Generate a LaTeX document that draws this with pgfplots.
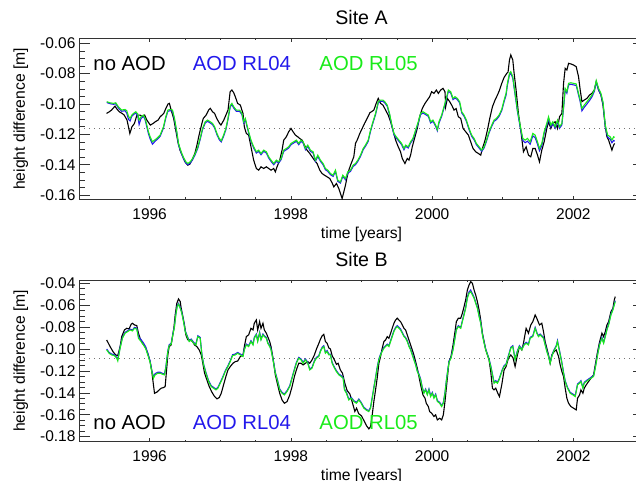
\documentclass[border=0pt]{standalone}
\usepackage{fontspec}
\setmainfont{Liberation Sans}
\usepackage{pgfplots}
\usepackage{pgfplotstable}
\pgfplotsset{compat=1.18}
\definecolor{aodblue}{RGB}{35,25,235}
\definecolor{aodgreen}{RGB}{25,235,25}

\pgfplotstableread{
t v
1995.39 -0.1062
1995.43 -0.1051
1995.46 -0.1040
1995.51 -0.1014
1995.53 -0.1029
1995.57 -0.1051
1995.61 -0.1062
1995.64 -0.1073
1995.68 -0.1106
1995.70 -0.1150
1995.72 -0.1194
1995.75 -0.1150
1995.785 -0.1128
1995.82 -0.1073
1995.865 -0.1073
1995.90 -0.1084
1995.93 -0.1073
1995.96 -0.1106
1996.01 -0.1139
1996.05 -0.1128
1996.08 -0.1117
1996.12 -0.1106
1996.15 -0.1084
1996.20 -0.1062
1996.23 -0.1029
1996.26 -0.1000
1996.28 -0.0996
1996.305 -0.1040
1996.34 -0.1095
1996.37 -0.1172
1996.40 -0.1249
1996.43 -0.1304
1996.47 -0.1348
1996.50 -0.1381
1996.54 -0.1403
1996.57 -0.1396
1996.60 -0.1370
1996.64 -0.1326
1996.67 -0.1271
1996.70 -0.1205
1996.74 -0.1128
1996.76 -0.1095
1996.80 -0.1073
1996.835 -0.1040
1996.86 -0.1029
1996.89 -0.1051
1996.92 -0.1062
1996.95 -0.1095
1996.99 -0.1128
1997.01 -0.1139
1997.05 -0.1106
1997.08 -0.1073
1997.11 -0.1040
1997.14 -0.0919
1997.165 -0.0908
1997.19 -0.0925
1997.213 -0.0952
1997.246 -0.0996
1997.284 -0.1007
1997.322 -0.1062
1997.341 -0.1150
1997.369 -0.1194
1997.402 -0.1205
1997.435 -0.1282
1997.473 -0.1370
1997.511 -0.1425
1997.544 -0.1436
1997.577 -0.1414
1997.615 -0.1425
1997.653 -0.1414
1997.686 -0.1425
1997.719 -0.1436
1997.757 -0.1425
1997.780 -0.1447
1997.804 -0.1414
1997.842 -0.1370
1997.875 -0.1304
1997.899 -0.1238
1997.936 -0.1216
1997.969 -0.1183
1998.002 -0.1161
1998.031 -0.1183
1998.064 -0.1205
1998.097 -0.1216
1998.125 -0.1227
1998.159 -0.1238
1998.192 -0.1271
1998.229 -0.1304
1998.267 -0.1326
1998.300 -0.1348
1998.333 -0.1370
1998.371 -0.1392
1998.409 -0.1436
1998.442 -0.1458
1998.475 -0.1469
1998.513 -0.1480
1998.551 -0.1491
1998.584 -0.1520
1998.608 -0.1546
1998.645 -0.1524
1998.679 -0.1557
1998.702 -0.1590
1998.726 -0.1623
1998.750 -0.1579
1998.773 -0.1535
1998.797 -0.1480
1998.820 -0.1436
1998.854 -0.1392
1998.891 -0.1348
1998.915 -0.1260
1998.939 -0.1238
1998.976 -0.1194
1999.010 -0.1161
1999.043 -0.1128
1999.08 -0.1095
1999.118 -0.1058
1999.142 -0.1051
1999.175 -0.1040
1999.208 -0.0996
1999.237 -0.0963
1999.27 -0.0996
1999.303 -0.1007
1999.341 -0.1040
1999.378 -0.1073
1999.412 -0.1117
1999.445 -0.1172
1999.483 -0.1238
1999.52 -0.1282
1999.553 -0.1315
1999.577 -0.1359
1999.615 -0.1392
1999.648 -0.1359
1999.672 -0.1370
1999.695 -0.1337
1999.719 -0.1282
1999.757 -0.1216
1999.79 -0.1161
1999.823 -0.1084
1999.861 -0.1029
1999.899 -0.0996
1999.932 -0.0974
1999.965 -0.0952
1999.993 -0.0919
2000.026 -0.0930
2000.06 -0.0908
2000.088 -0.0930
2000.121 -0.0908
2000.154 -0.0897
2000.182 -0.0919
2000.192 -0.1018
2000.215 -0.0963
2000.249 -0.0985
2000.28 -0.1010
2000.31 -0.1040
2000.34 -0.1030
2000.371 -0.1084
2000.405 -0.1095
2000.438 -0.1161
2000.476 -0.1183
2000.513 -0.1205
2000.546 -0.1249
2000.579 -0.1293
2000.617 -0.1315
2000.655 -0.1326
2000.688 -0.1337
2000.712 -0.1293
2000.75 -0.1238
2000.783 -0.1172
2000.816 -0.1095
2000.854 -0.1018
2000.891 -0.0974
2000.925 -0.0941
2000.953 -0.0910
2000.986 -0.0864
2001.019 -0.0825
2001.057 -0.0798
2001.075 -0.0790
2001.095 -0.0710
2001.114 -0.0677
2001.142 -0.0710
2001.161 -0.0798
2001.189 -0.0908
2001.222 -0.1062
2001.255 -0.1172
2001.293 -0.1315
2001.331 -0.1282
2001.364 -0.1337
2001.397 -0.1348
2001.426 -0.1293
2001.459 -0.1293
2001.492 -0.1337
2001.52 -0.1381
2001.553 -0.1304
2001.586 -0.1249
2001.624 -0.1161
2001.648 -0.1117
2001.681 -0.1161
2001.709 -0.1128
2001.742 -0.1117
2001.775 -0.1161
2001.804 -0.1084
2001.837 -0.1062
2001.861 -0.0864
2001.884 -0.0765
2001.908 -0.0776
2001.932 -0.0732
2001.965 -0.0736
2002.002 -0.0743
2002.04 -0.0754
2002.073 -0.0820
2002.097 -0.0908
2002.121 -0.0985
2002.154 -0.0974
2002.192 -0.0963
2002.229 -0.0941
2002.263 -0.0930
2002.296 -0.0908
2002.324 -0.0853
2002.357 -0.0908
2002.39 -0.0941
2002.419 -0.1007
2002.452 -0.1150
2002.475 -0.1216
2002.499 -0.1238
2002.546 -0.1304
2002.57 -0.1271
2002.584 -0.1260
}\topK

\pgfplotstableread{
t g b
1995.392 -0.0985 -0.0990
1995.44 -0.0992 -0.0998
1995.487 -0.0996 -0.1002
1995.52 -0.0992 -0.0998
1995.558 -0.1018 -0.1026
1995.605 -0.1040 -0.1048
1995.652 -0.1036 -0.1044
1995.676 -0.1044 -0.1060
1995.70 -0.1080 -0.1100
1995.723 -0.1095 -0.1112
1995.747 -0.1073 -0.1081
1995.771 -0.1062 -0.1070
1995.804 -0.1051 -0.1059
1995.832 -0.1066 -0.1080
1995.851 -0.1106 -0.1135
1995.879 -0.1084 -0.1095
1995.913 -0.1073 -0.1081
1995.936 -0.1095 -0.1103
1995.96 -0.1139 -0.1150
1995.983 -0.1183 -0.1195
1996.007 -0.1216 -0.1230
1996.04 -0.1249 -0.1265
1996.069 -0.1238 -0.1250
1996.102 -0.1227 -0.1235
1996.149 -0.1205 -0.1213
1996.196 -0.1150 -0.1158
1996.229 -0.1084 -0.1092
1996.258 -0.1040 -0.1048
1996.291 -0.1036 -0.1044
1996.324 -0.1040 -0.1048
1996.352 -0.1095 -0.1103
1996.385 -0.1183 -0.1191
1996.409 -0.1260 -0.1268
1996.447 -0.1315 -0.1323
1996.48 -0.1352 -0.1360
1996.513 -0.1381 -0.1389
1996.541 -0.1392 -0.1400
1996.575 -0.1381 -0.1389
1996.608 -0.1359 -0.1367
1996.645 -0.1326 -0.1334
1996.683 -0.1282 -0.1290
1996.721 -0.1216 -0.1224
1996.749 -0.1161 -0.1169
1996.787 -0.1117 -0.1125
1996.82 -0.1106 -0.1114
1996.858 -0.1117 -0.1125
1996.891 -0.1128 -0.1136
1996.92 -0.1150 -0.1158
1996.953 -0.1194 -0.1202
1996.986 -0.1227 -0.1235
1997.014 -0.1242 -0.1250
1997.047 -0.1205 -0.1213
1997.08 -0.1161 -0.1169
1997.109 -0.1095 -0.1103
1997.142 -0.1010 -0.1018
1997.165 -0.0996 -0.1004
1997.19 -0.1018 -0.1026
1997.227 -0.1040 -0.1048
1997.274 -0.1040 -0.1048
1997.307 -0.1062 -0.1070
1997.331 -0.1117 -0.1125
1997.355 -0.1095 -0.1103
1997.378 -0.1139 -0.1147
1997.402 -0.1183 -0.1191
1997.435 -0.1238 -0.1246
1997.473 -0.1282 -0.1290
1997.511 -0.1315 -0.1323
1997.544 -0.1304 -0.1312
1997.577 -0.1326 -0.1334
1997.615 -0.1304 -0.1312
1997.653 -0.1315 -0.1323
1997.686 -0.1348 -0.1356
1997.719 -0.1370 -0.1378
1997.757 -0.1392 -0.1400
1997.795 -0.1370 -0.1378
1997.828 -0.1381 -0.1389
1997.861 -0.1359 -0.1367
1997.899 -0.1304 -0.1312
1997.936 -0.1293 -0.1301
1997.969 -0.1282 -0.1290
1998.002 -0.1260 -0.1268
1998.040 -0.1249 -0.1257
1998.078 -0.1238 -0.1246
1998.111 -0.1260 -0.1268
1998.144 -0.1238 -0.1246
1998.173 -0.1249 -0.1257
1998.206 -0.1293 -0.1301
1998.239 -0.1271 -0.1279
1998.277 -0.1304 -0.1312
1998.315 -0.1315 -0.1323
1998.348 -0.1370 -0.1378
1998.381 -0.1337 -0.1345
1998.419 -0.1370 -0.1378
1998.456 -0.1392 -0.1400
1998.489 -0.1425 -0.1433
1998.523 -0.1436 -0.1444
1998.560 -0.1458 -0.1466
1998.598 -0.1469 -0.1477
1998.631 -0.1436 -0.1444
1998.664 -0.1502 -0.1510
1998.702 -0.1513 -0.1521
1998.735 -0.1469 -0.1477
1998.773 -0.1491 -0.1499
1998.806 -0.1447 -0.1455
1998.844 -0.1436 -0.1444
1998.882 -0.1403 -0.1411
1998.915 -0.1392 -0.1400
1998.948 -0.1370 -0.1378
1998.986 -0.1337 -0.1345
1999.024 -0.1293 -0.1301
1999.057 -0.1270 -0.1278
1999.095 -0.1238 -0.1246
1999.128 -0.1172 -0.1180
1999.16 -0.1120 -0.1128
1999.199 -0.1062 -0.1070
1999.237 -0.0985 -0.0993
1999.27 -0.0974 -0.0982
1999.303 -0.0974 -0.0982
1999.33 -0.0985 -0.0993
1999.364 -0.1007 -0.1015
1999.397 -0.1062 -0.1070
1999.426 -0.1128 -0.1136
1999.459 -0.1194 -0.1202
1999.492 -0.1216 -0.1224
1999.53 -0.1238 -0.1246
1999.568 -0.1260 -0.1268
1999.601 -0.1293 -0.1301
1999.624 -0.1271 -0.1279
1999.662 -0.1282 -0.1290
1999.695 -0.1249 -0.1257
1999.728 -0.1227 -0.1235
1999.766 -0.1172 -0.1180
1999.804 -0.1117 -0.1125
1999.837 -0.1062 -0.1070
1999.87 -0.1051 -0.1059
1999.908 -0.1062 -0.1070
1999.946 -0.1073 -0.1081
1999.979 -0.1117 -0.1125
2000.012 -0.1106 -0.1114
2000.05 -0.1139 -0.1147
2000.074 -0.1168 -0.1176
2000.097 -0.1117 -0.1125
2000.135 -0.1073 -0.1081
2000.168 -0.1018 -0.1026
2000.201 -0.0963 -0.0971
2000.23 -0.0908 -0.0916
2000.263 -0.0919 -0.0927
2000.296 -0.0963 -0.0971
2000.324 -0.0952 -0.0960
2000.357 -0.0963 -0.0971
2000.39 -0.0985 -0.0993
2000.419 -0.1051 -0.1059
2000.452 -0.1073 -0.1081
2000.485 -0.1106 -0.1114
2000.523 -0.1161 -0.1169
2000.56 -0.1205 -0.1213
2000.594 -0.1227 -0.1235
2000.627 -0.1260 -0.1268
2000.665 -0.1282 -0.1290
2000.702 -0.1304 -0.1312
2000.736 -0.1282 -0.1290
2000.769 -0.1238 -0.1246
2000.806 -0.1183 -0.1191
2000.844 -0.1139 -0.1147
2000.877 -0.1106 -0.1114
2000.91 -0.1095 -0.1103
2000.948 -0.1073 -0.1081
2000.986 -0.1035 -0.1043
2001.019 -0.0974 -0.0985
2001.047 -0.0930 -0.0942
2001.066 -0.0864 -0.0876
2001.095 -0.0798 -0.0808
2001.114 -0.0787 -0.0797
2001.142 -0.0820 -0.0830
2001.175 -0.0930 -0.0940
2001.208 -0.1040 -0.1050
2001.246 -0.1139 -0.1150
2001.284 -0.1227 -0.1240
2001.317 -0.1238 -0.1255
2001.35 -0.1227 -0.1245
2001.388 -0.1249 -0.1265
2001.426 -0.1194 -0.1210
2001.459 -0.1205 -0.1222
2001.492 -0.1249 -0.1265
2001.52 -0.1293 -0.1308
2001.553 -0.1260 -0.1275
2001.586 -0.1183 -0.1195
2001.624 -0.1128 -0.1140
2001.648 -0.1084 -0.1095
2001.681 -0.1139 -0.1150
2001.709 -0.1117 -0.1128
2001.742 -0.1150 -0.1160
2001.775 -0.1106 -0.1116
2001.804 -0.1150 -0.1160
2001.837 -0.1128 -0.1138
2001.861 -0.1018 -0.1028
2001.884 -0.0897 -0.0907
2001.908 -0.0919 -0.0929
2001.932 -0.0864 -0.0874
2001.965 -0.0860 -0.0870
2002.002 -0.0864 -0.0874
2002.04 -0.0868 -0.0878
2002.073 -0.0930 -0.0940
2002.097 -0.0974 -0.0986
2002.121 -0.1029 -0.1045
2002.154 -0.1007 -0.1022
2002.192 -0.0985 -0.1000
2002.229 -0.0963 -0.0977
2002.263 -0.0941 -0.0953
2002.296 -0.0908 -0.0918
2002.324 -0.0846 -0.0856
2002.357 -0.0897 -0.0907
2002.39 -0.0930 -0.0940
2002.419 -0.0985 -0.0995
2002.452 -0.1139 -0.1150
2002.485 -0.1205 -0.1218
2002.522 -0.1216 -0.1232
2002.546 -0.1238 -0.1255
2002.57 -0.1216 -0.1240
2002.584 -0.1220 -0.1245
}\topG

\pgfplotstableread{
t v
1995.392 -0.0917
1995.440 -0.0978
1995.487 -0.1029
1995.520 -0.1054
1995.549 -0.1060
1995.582 -0.0978
1995.605 -0.0887
1995.643 -0.0826
1995.676 -0.0811
1995.709 -0.0817
1995.738 -0.0774
1995.757 -0.0765
1995.785 -0.0780
1995.818 -0.0786
1995.842 -0.0856
1995.865 -0.0902
1995.898 -0.0947
1995.936 -0.0978
1995.974 -0.1039
1996.007 -0.1115
1996.031 -0.1206
1996.054 -0.1327
1996.069 -0.1404
1996.102 -0.1394
1996.135 -0.1373
1996.163 -0.1358
1996.196 -0.1352
1996.220 -0.1343
1996.234 -0.1236
1996.258 -0.1054
1996.277 -0.0978
1996.305 -0.0963
1996.324 -0.0887
1996.343 -0.0811
1996.362 -0.0689
1996.385 -0.0583
1996.409 -0.0543
1996.433 -0.0567
1996.447 -0.0628
1996.466 -0.0689
1996.494 -0.0780
1996.513 -0.0871
1996.541 -0.0917
1996.575 -0.0917
1996.608 -0.0932
1996.636 -0.0963
1996.669 -0.0978
1996.702 -0.1008
1996.731 -0.1054
1996.749 -0.1115
1996.778 -0.1221
1996.811 -0.1282
1996.844 -0.1343
1996.882 -0.1394
1996.920 -0.1434
1996.953 -0.1455
1996.986 -0.1443
1997.014 -0.1404
1997.047 -0.1327
1997.080 -0.1251
1997.109 -0.1191
1997.142 -0.1160
1997.18 -0.1130
1997.213 -0.1115
1997.246 -0.1110
1997.284 -0.1069
1997.322 -0.1054
1997.341 -0.0978
1997.369 -0.0887
1997.402 -0.0871
1997.435 -0.0811
1997.464 -0.0826
1997.482 -0.0765
1997.511 -0.0735
1997.53 -0.0826
1997.558 -0.0750
1997.577 -0.0811
1997.605 -0.0765
1997.624 -0.0826
1997.653 -0.0856
1997.672 -0.0887
1997.7 -0.0932
1997.719 -0.0978
1997.747 -0.1084
1997.78 -0.1236
1997.813 -0.1327
1997.842 -0.1404
1997.875 -0.1465
1997.908 -0.1495
1997.946 -0.1480
1997.984 -0.1419
1998.017 -0.1343
1998.05 -0.1251
1998.078 -0.1191
1998.111 -0.1130
1998.144 -0.1130
1998.173 -0.1145
1998.206 -0.1130
1998.239 -0.1115
1998.267 -0.1130
1998.3 -0.1099
1998.333 -0.1054
1998.362 -0.1000
1998.395 -0.0950
1998.419 -0.0910
1998.442 -0.0880
1998.466 -0.0866
1998.489 -0.0932
1998.513 -0.0947
1998.537 -0.0990
1998.56 -0.1000
1998.584 -0.1060
1998.617 -0.1100
1998.645 -0.1140
1998.669 -0.1130
1998.70 -0.1190
1998.731 -0.1221
1998.764 -0.1312
1998.797 -0.1380
1998.835 -0.1410
1998.873 -0.1494
1998.906 -0.1570
1998.93 -0.1540
1998.96 -0.1590
1999.00 -0.1610
1999.04 -0.1660
1999.071 -0.1700
1999.104 -0.1729
1999.128 -0.1708
1999.152 -0.1601
1999.175 -0.1479
1999.199 -0.1373
1999.222 -0.1267
1999.246 -0.1130
1999.27 -0.1069
1999.293 -0.0993
1999.317 -0.0932
1999.341 -0.0917
1999.364 -0.0887
1999.388 -0.0902
1999.412 -0.0856
1999.435 -0.0811
1999.459 -0.0765
1999.483 -0.0735
1999.506 -0.0719
1999.53 -0.0735
1999.553 -0.0750
1999.577 -0.0780
1999.601 -0.0811
1999.624 -0.0826
1999.648 -0.0871
1999.672 -0.0917
1999.695 -0.0963
1999.719 -0.1008
1999.742 -0.1054
1999.766 -0.1115
1999.79 -0.1175
1999.813 -0.1251
1999.837 -0.1327
1999.87 -0.1419
1999.899 -0.1449
1999.917 -0.1495
1999.946 -0.1525
1999.965 -0.1571
1999.993 -0.1586
2000.026 -0.1616
2000.05 -0.1601
2000.074 -0.1647
2000.107 -0.1632
2000.135 -0.1647
2000.159 -0.1601
2000.182 -0.1479
2000.201 -0.1358
2000.22 -0.1236
2000.239 -0.1115
2000.267 -0.1069
2000.296 -0.0963
2000.324 -0.0841
2000.343 -0.0750
2000.371 -0.0719
2000.405 -0.0719
2000.428 -0.0674
2000.452 -0.0613
2000.475 -0.0552
2000.499 -0.0461
2000.523 -0.0415
2000.546 -0.0385
2000.57 -0.0400
2000.594 -0.0461
2000.617 -0.0507
2000.641 -0.0567
2000.665 -0.0643
2000.688 -0.0735
2000.712 -0.0856
2000.736 -0.0932
2000.759 -0.1008
2000.783 -0.1054
2000.806 -0.1099
2000.83 -0.1206
2000.854 -0.1358
2000.877 -0.1373
2000.901 -0.1358
2000.93 -0.1404
2000.953 -0.1434
2000.986 -0.1327
2001.019 -0.1191
2001.047 -0.1160
2001.08 -0.1084
2001.114 -0.1054
2001.145 -0.1080
2001.175 -0.1160
2001.208 -0.1054
2001.236 -0.0978
2001.27 -0.1008
2001.293 -0.0948
2001.331 -0.0811
2001.364 -0.0856
2001.397 -0.0780
2001.426 -0.0750
2001.459 -0.0689
2001.482 -0.0720
2001.52 -0.0780
2001.553 -0.0765
2001.577 -0.0841
2001.6 -0.0932
2001.624 -0.0993
2001.648 -0.1054
2001.671 -0.1130
2001.695 -0.1054
2001.728 -0.1023
2001.757 -0.1008
2001.79 -0.1069
2001.813 -0.1145
2001.837 -0.1206
2001.861 -0.1251
2001.884 -0.1358
2001.908 -0.1449
2001.932 -0.1495
2001.965 -0.1525
2002.002 -0.1540
2002.04 -0.1556
2002.059 -0.1449
2002.088 -0.1419
2002.107 -0.1373
2002.135 -0.1404
2002.154 -0.1358
2002.182 -0.1327
2002.215 -0.1297
2002.248 -0.1267
2002.286 -0.1236
2002.31 -0.1145
2002.343 -0.1023
2002.371 -0.0935
2002.404 -0.0856
2002.428 -0.0887
2002.452 -0.0841
2002.475 -0.0780
2002.499 -0.0750
2002.532 -0.0659
2002.56 -0.0628
2002.579 -0.0552
2002.593 -0.0522
}\botK

\pgfplotstableread{
t g b
1995.392 -0.1008 -0.1000
1995.426 -0.1039 -0.1031
1995.463 -0.1054 -0.1046
1995.501 -0.1060 -0.1052
1995.534 -0.1084 -0.1076
1995.549 -0.1108 -0.1095
1995.582 -0.0993 -0.0985
1995.615 -0.0902 -0.0894
1995.652 -0.0856 -0.0848
1995.690 -0.0841 -0.0833
1995.723 -0.0826 -0.0818
1995.757 -0.0835 -0.0827
1995.785 -0.0811 -0.0803
1995.818 -0.0817 -0.0809
1995.842 -0.0902 -0.0885
1995.879 -0.0932 -0.0915
1995.913 -0.0963 -0.0945
1995.946 -0.0999 -0.0982
1995.974 -0.1054 -0.1040
1996.007 -0.1121 -0.1110
1996.031 -0.1206 -0.1195
1996.054 -0.1267 -0.1255
1996.078 -0.1236 -0.1225
1996.116 -0.1221 -0.1212
1996.149 -0.1221 -0.1212
1996.182 -0.1230 -0.1222
1996.210 -0.1236 -0.1228
1996.229 -0.1175 -0.1167
1996.258 -0.1023 -0.1015
1996.277 -0.0969 -0.0961
1996.305 -0.0956 -0.0948
1996.329 -0.0871 -0.0863
1996.352 -0.0795 -0.0787
1996.371 -0.0689 -0.0681
1996.390 -0.0613 -0.0605
1996.409 -0.0592 -0.0584
1996.433 -0.0628 -0.0620
1996.456 -0.0674 -0.0666
1996.480 -0.0750 -0.0742
1996.504 -0.0841 -0.0833
1996.532 -0.0887 -0.0879
1996.560 -0.0932 -0.0924
1996.589 -0.0917 -0.0909
1996.622 -0.0947 -0.0939
1996.655 -0.0963 -0.0955
1996.683 -0.0887 -0.0879
1996.716 -0.0902 -0.0894
1996.740 -0.1054 -0.1046
1996.764 -0.1145 -0.1137
1996.797 -0.1221 -0.1213
1996.835 -0.1297 -0.1289
1996.872 -0.1343 -0.1335
1996.905 -0.1358 -0.1350
1996.939 -0.1373 -0.1365
1996.967 -0.1358 -0.1350
1997.000 -0.1312 -0.1304
1997.033 -0.1267 -0.1259
1997.071 -0.1206 -0.1198
1997.109 -0.1160 -0.1152
1997.142 -0.1115 -0.1107
1997.175 -0.1060 -0.1052
1997.213 -0.1054 -0.1046
1997.246 -0.1039 -0.1031
1997.284 -0.1054 -0.1046
1997.322 -0.1069 -0.1061
1997.341 -0.1008 -0.1000
1997.369 -0.0963 -0.0955
1997.402 -0.0978 -0.0970
1997.435 -0.0932 -0.0924
1997.464 -0.0963 -0.0955
1997.482 -0.0902 -0.0894
1997.511 -0.0871 -0.0863
1997.53 -0.0932 -0.0924
1997.558 -0.0856 -0.0848
1997.577 -0.0917 -0.0909
1997.605 -0.0871 -0.0863
1997.624 -0.0887 -0.0879
1997.653 -0.0902 -0.0894
1997.672 -0.0947 -0.0939
1997.7 -0.0978 -0.0970
1997.719 -0.1008 -0.1000
1997.747 -0.1099 -0.1091
1997.78 -0.1221 -0.1213
1997.813 -0.1297 -0.1289
1997.842 -0.1373 -0.1365
1997.875 -0.1404 -0.1396
1997.908 -0.1419 -0.1411
1997.946 -0.1388 -0.1380
1997.984 -0.1343 -0.1335
1998.017 -0.1267 -0.1259
1998.05 -0.1191 -0.1183
1998.078 -0.1130 -0.1122
1998.111 -0.1084 -0.1076
1998.144 -0.1099 -0.1091
1998.173 -0.1130 -0.1122
1998.206 -0.1099 -0.1091
1998.239 -0.1130 -0.1122
1998.267 -0.1191 -0.1183
1998.3 -0.1175 -0.1167
1998.333 -0.1115 -0.1107
1998.362 -0.1084 -0.1076
1998.395 -0.1069 -0.1061
1998.419 -0.1023 -0.1015
1998.442 -0.0993 -0.0985
1998.466 -0.0978 -0.0970
1998.489 -0.1039 -0.1031
1998.513 -0.1023 -0.1015
1998.537 -0.1054 -0.1046
1998.56 -0.1054 -0.1046
1998.584 -0.1130 -0.1122
1998.617 -0.1175 -0.1167
1998.645 -0.1206 -0.1198
1998.679 -0.1236 -0.1228
1998.712 -0.1251 -0.1243
1998.74 -0.1267 -0.1259
1998.759 -0.1373 -0.1365
1998.787 -0.1404 -0.1396
1998.82 -0.1465 -0.1457
1998.854 -0.1449 -0.1441
1998.891 -0.1479 -0.1471
1998.929 -0.1495 -0.1487
1998.962 -0.1465 -0.1457
1998.995 -0.1495 -0.1487
1999.033 -0.1540 -0.1532
1999.071 -0.1560 -0.1552
1999.104 -0.1571 -0.1563
1999.128 -0.1540 -0.1532
1999.152 -0.1449 -0.1441
1999.175 -0.1358 -0.1350
1999.199 -0.1267 -0.1259
1999.222 -0.1175 -0.1167
1999.246 -0.1099 -0.1091
1999.27 -0.1054 -0.1046
1999.293 -0.1023 -0.1015
1999.317 -0.0993 -0.0985
1999.341 -0.0978 -0.0970
1999.364 -0.0963 -0.0955
1999.388 -0.0978 -0.0970
1999.412 -0.0932 -0.0924
1999.435 -0.0887 -0.0879
1999.459 -0.0841 -0.0833
1999.483 -0.0811 -0.0803
1999.506 -0.0795 -0.0787
1999.53 -0.0811 -0.0803
1999.553 -0.0826 -0.0818
1999.577 -0.0856 -0.0848
1999.601 -0.0887 -0.0879
1999.624 -0.0902 -0.0894
1999.648 -0.0932 -0.0924
1999.672 -0.0978 -0.0970
1999.695 -0.1008 -0.1000
1999.719 -0.1054 -0.1046
1999.742 -0.1099 -0.1091
1999.766 -0.1145 -0.1137
1999.79 -0.1206 -0.1198
1999.813 -0.1236 -0.1228
1999.837 -0.1282 -0.1274
1999.861 -0.1358 -0.1350
1999.884 -0.1404 -0.1396
1999.908 -0.1373 -0.1365
1999.932 -0.1419 -0.1411
1999.955 -0.1373 -0.1365
1999.979 -0.1434 -0.1426
2000.003 -0.1404 -0.1396
2000.026 -0.1449 -0.1441
2000.05 -0.1419 -0.1411
2000.074 -0.1479 -0.1471
2000.107 -0.1495 -0.1487
2000.135 -0.1525 -0.1517
2000.159 -0.1495 -0.1487
2000.182 -0.1404 -0.1396
2000.201 -0.1297 -0.1289
2000.22 -0.1206 -0.1198
2000.239 -0.1121 -0.1113
2000.267 -0.1084 -0.1076
2000.296 -0.1008 -0.1000
2000.324 -0.0902 -0.0894
2000.343 -0.0826 -0.0818
2000.371 -0.0795 -0.0787
2000.405 -0.0811 -0.0803
2000.428 -0.0750 -0.0742
2000.452 -0.0689 -0.0681
2000.475 -0.0628 -0.0620
2000.499 -0.0537 -0.0525
2000.523 -0.0491 -0.0478
2000.546 -0.0476 -0.0462
2000.57 -0.0507 -0.0495
2000.594 -0.0537 -0.0527
2000.617 -0.0583 -0.0575
2000.641 -0.0628 -0.0620
2000.665 -0.0704 -0.0696
2000.688 -0.0765 -0.0757
2000.712 -0.0871 -0.0863
2000.736 -0.0947 -0.0939
2000.759 -0.1008 -0.1000
2000.783 -0.1054 -0.1046
2000.806 -0.1099 -0.1091
2000.83 -0.1160 -0.1152
2000.854 -0.1236 -0.1228
2000.877 -0.1312 -0.1304
2000.901 -0.1297 -0.1289
2000.925 -0.1312 -0.1304
2000.948 -0.1282 -0.1274
2000.972 -0.1236 -0.1228
2000.996 -0.1191 -0.1183
2001.019 -0.1160 -0.1152
2001.047 -0.1145 -0.1137
2001.08 -0.1069 -0.1061
2001.114 -0.0993 -0.0985
2001.142 -0.0978 -0.0970
2001.175 -0.1099 -0.1091
2001.208 -0.1023 -0.1015
2001.236 -0.0978 -0.0970
2001.27 -0.1008 -0.1000
2001.303 -0.0963 -0.0955
2001.331 -0.0947 -0.0939
2001.364 -0.0963 -0.0955
2001.388 -0.0902 -0.0894
2001.426 -0.0887 -0.0879
2001.459 -0.0811 -0.0803
2001.482 -0.0856 -0.0848
2001.506 -0.0887 -0.0879
2001.53 -0.0871 -0.0863
2001.553 -0.0887 -0.0879
2001.577 -0.0902 -0.0894
2001.6 -0.0963 -0.0955
2001.624 -0.1023 -0.1015
2001.648 -0.1069 -0.1061
2001.671 -0.1130 -0.1122
2001.695 -0.1069 -0.1061
2001.719 -0.1023 -0.1015
2001.757 -0.0978 -0.0970
2001.775 -0.0932 -0.0924
2001.804 -0.1023 -0.1015
2001.837 -0.1130 -0.1122
2001.861 -0.1221 -0.1213
2001.884 -0.1297 -0.1289
2001.917 -0.1358 -0.1350
2001.955 -0.1404 -0.1396
2001.993 -0.1419 -0.1411
2002.026 -0.1434 -0.1426
2002.059 -0.1327 -0.1319
2002.088 -0.1312 -0.1304
2002.107 -0.1297 -0.1289
2002.135 -0.1358 -0.1350
2002.154 -0.1312 -0.1304
2002.182 -0.1297 -0.1289
2002.215 -0.1282 -0.1274
2002.248 -0.1267 -0.1259
2002.286 -0.1251 -0.1243
2002.31 -0.1175 -0.1167
2002.343 -0.1054 -0.1046
2002.371 -0.0963 -0.0955
2002.404 -0.0902 -0.0894
2002.428 -0.0948 -0.0940
2002.452 -0.0887 -0.0879
2002.475 -0.0826 -0.0818
2002.499 -0.0780 -0.0772
2002.532 -0.0689 -0.0681
2002.56 -0.0643 -0.0635
2002.579 -0.0598 -0.0590
2002.593 -0.0567 -0.0559
}\botG

\pgfplotsset{
  myaxis/.style={
    scale only axis, width=565pt, xmin=1995, xmax=2003,
    xtick={1996,1998,2000,2002}, minor x tick num=3, minor y tick num=3,
    tick align=inside,
    major tick length=11pt, minor tick length=6.5pt,
    xtick style={/pgfplots/major tick length=3.5pt,/pgfplots/minor tick length=1.8pt},
    axis line style={black!80, line width=0.7pt},
    every tick/.style={black!80, line width=0.6pt},
    ticklabel style={font=\fontsize{15.5}{18}\selectfont},
    /pgf/number format/assume math mode=true,
    xticklabel style={/pgf/number format/1000 sep={}, yshift=-5.5pt},
    yticklabel style={/pgf/number format/.cd, fixed, fixed zerofill, precision=2},
    label style={font=\fontsize{15.7}{18}\selectfont},
    xlabel={time [years]},
    ylabel={height difference [m]},
    xlabel style={at={(axis description cs:0.5,0)}, anchor=base, yshift=-38.9pt},
    ylabel style={at={(axis description cs:-0.0956,0.5)}, anchor=base},
    title style={at={(axis description cs:0.5,1)}, anchor=base, yshift=7.6pt, font=\fontsize{19.6}{22}\selectfont},
  },
  lk/.style={black, line width=1.1pt},
  lb/.style={aodblue, line width=1.1pt},
  lg/.style={aodgreen, line width=1.1pt},
}
\tikzset{leg/.style={anchor=base west, inner sep=0pt, font=\fontsize{20.3}{24}\selectfont}}

\begin{document}
\begin{tikzpicture}
\begin{axis}[myaxis, at={(79pt,281.7pt)}, anchor=south west, height=161pt,
  ymin=-0.1628, ymax=-0.0567, ytick={-0.16,-0.14,-0.12,-0.10,-0.08,-0.06},
  title={Site A}]
  \addplot[black!55, line width=0.8pt, dash pattern=on 0.8pt off 4.2pt] coordinates {(1995,-0.1161) (2003,-0.1161)};
  \addplot[lk] table[x=t,y=v] {\topK};
  \addplot[lb] table[x=t,y=b] {\topG};
  \addplot[lg] table[x=t,y=g] {\topG};
  \node[leg] at (rel axis cs:0.0253,0.797) {no AOD};
  \node[leg, text=aodblue] at (rel axis cs:0.2012,0.797) {AOD RL04};
  \node[leg, text=aodgreen] at (rel axis cs:0.4253,0.797) {AOD RL05};
\end{axis}
\begin{axis}[myaxis, at={(79pt,39.3pt)}, anchor=south west, height=161.7pt,
  ymin=-0.1846, ymax=-0.037, ytick={-0.18,-0.16,-0.14,-0.12,-0.10,-0.08,-0.06,-0.04},
  title={Site B}]
  \addplot[black!55, line width=0.8pt, dash pattern=on 0.8pt off 4.2pt] coordinates {(1995,-0.1085) (2003,-0.1085)};
  \addplot[lk] table[x=t,y=v] {\botK};
  \addplot[lb] table[x=t,y=b] {\botG};
  \addplot[lg] table[x=t,y=g] {\botG};
  \node[leg] at (rel axis cs:0.0253,0.0724) {no AOD};
  \node[leg, text=aodblue] at (rel axis cs:0.2012,0.0724) {AOD RL04};
  \node[leg, text=aodgreen] at (rel axis cs:0.4253,0.0724) {AOD RL05};
\end{axis}
\pgfresetboundingbox
\useasboundingbox (0pt,0pt) rectangle (636pt,481pt);
\end{tikzpicture}
\end{document}
